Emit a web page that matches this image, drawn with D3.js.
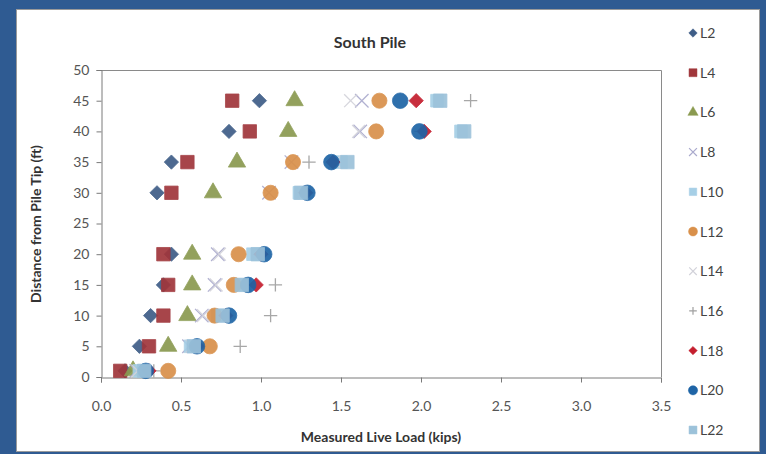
<!DOCTYPE html>
<html>
<head>
<meta charset="utf-8">
<script src="https://cdn.jsdelivr.net/npm/d3@7"></script>
<style>
  body { margin: 0; background: #2f5b92; }
  svg { display: block; font-family: Lato, "Open Sans", sans-serif; }
</style>
</head>
<body>
<svg width="766" height="454"></svg>
<script>
// Depth of each gauge row (ft)
var depths = [1, 5, 10, 15, 20, 30, 35, 40, 45];

// Measured live load per series (kips), same order as depths
var L2  = [0.15, 0.24, 0.31, 0.39, 0.44, 0.35, 0.44, 0.80, 0.99];
var L4  = [0.12, 0.30, 0.39, 0.42, 0.39, 0.44, 0.54, 0.93, 0.82];
var L6  = [0.20, 0.42, 0.54, 0.57, 0.57, 0.70, 0.85, 1.17, 1.21];
var L8  = [0.22, 0.55, 0.63, 0.71, 0.73, 1.05, 1.19, 1.62, 1.63];
var L10 = [0.24, 0.56, 0.73, 0.90, 0.95, 1.24, 1.50, 2.25, 2.10];
var L12 = [0.42, 0.68, 0.71, 0.83, 0.86, 1.06, 1.20, 1.72, 1.74];
var L14 = [0.23, 0.57, 0.64, 0.72, 0.74, 1.27, 1.46, 1.61, 1.56];
var L16 = [0.33, 0.87, 1.06, 1.09, 1.00, 1.28, 1.30, 2.00, 2.31];
var L18 = [0.30, 0.60, 0.78, 0.97, 1.00, 1.28, 1.45, 2.02, 1.97];
var L20 = [0.28, 0.60, 0.80, 0.92, 1.02, 1.29, 1.44, 1.99, 1.87];
var L22 = [0.27, 0.58, 0.76, 0.88, 0.98, 1.25, 1.54, 2.27, 2.12];

var seriesNames = ["L2", "L4", "L6", "L8", "L10", "L12", "L14", "L16", "L18", "L20", "L22"];
var seriesValues = [L2, L4, L6, L8, L10, L12, L14, L16, L18, L20, L22];

var xTicks = [0, 0.5, 1, 1.5, 2, 2.5, 3, 3.5];
var yTicks = [0, 5, 10, 15, 20, 25, 30, 35, 40, 45, 50];

// marker styles
var diamond = d3.symbolDiamond2 || d3.symbolDiamond;
var times = d3.symbolTimes || d3.symbolX || d3.symbolCross;
var plus = d3.symbolPlus || d3.symbolCross;
var styles = {
  L2:  {type: diamond, size: 130, color: "#3e5d87", fill: true},
  L4:  {type: d3.symbolSquare, size: 180, color: "#a0363b", fill: true},
  L6:  {type: d3.symbolTriangle, size: 130, color: "#8a9a50", fill: true},
  L8:  {type: times, size: 120, color: "#aaaacd", fill: false},
  L10: {type: d3.symbolSquare, size: 160, color: "#a6cfe6", fill: true},
  L12: {type: d3.symbolCircle, size: 180, color: "#d9904a", fill: true},
  L14: {type: times, size: 110, color: "#d2d2da", fill: false},
  L16: {type: plus, size: 60, color: "#a0a0a0", fill: false},
  L18: {type: diamond, size: 130, color: "#c41e2e", fill: true},
  L20: {type: d3.symbolCircle, size: 190, color: "#1e64a6", fill: true},
  L22: {type: d3.symbolSquare, size: 180, color: "#9cc2da", fill: true}
};

var svg = d3.select("svg");

// white chart panel
svg.append("rect")
    .attr("x", 16.5).attr("y", 9.5)
    .attr("width", 743).attr("height", 442)
    .attr("fill", "#fff")
    .attr("stroke", "#9a9a9a");

var x = d3.scaleLinear().domain([0, 3.5]).range([101, 661]);
var y = d3.scaleLinear().domain([0, 50]).range([377, 70]);

// plot frame (top + right)
svg.append("path")
    .attr("d", "M" + x(0) + "," + (y(50) + 0.5) + "H" + (x(3.5) + 0.5) + "V" + y(0))
    .attr("fill", "none")
    .attr("stroke", "#8a8a8a");

var xAxis = svg.append("g")
    .attr("transform", "translate(0," + (y(0) + 0.5) + ")")
    .call(d3.axisBottom(x).tickValues(xTicks).tickSize(5).tickPadding(19)
        .tickFormat(d3.format(".1f")));

var yAxis = svg.append("g")
    .attr("transform", "translate(" + (x(0) + 0.5) + ",0)")
    .call(d3.axisLeft(y).tickValues(yTicks).tickSize(5).tickPadding(7));

[xAxis, yAxis].forEach(function (g) {
    g.select(".domain").attr("stroke", "#7a7a7a");
    g.selectAll(".tick line").attr("stroke", "#7a7a7a");
    g.selectAll(".tick text")
        .attr("fill", "#555")
        .style("font-size", "14px")
        .style("font-family", "Lato, sans-serif");
});

// markers
seriesNames.forEach(function (name, i) {
    var st = styles[name];
    var sym = d3.symbol().type(st.type).size(st.size);
    svg.append("g")
        .attr("class", "series " + name)
        .selectAll("path")
        .data(seriesValues[i])
        .enter()
        .append("path")
        .attr("transform", function (d, j) {
            return "translate(" + x(d) + "," + y(depths[j]) + ")";
        })
        .attr("d", sym)
        .attr("fill", st.fill ? st.color : "none")
        .attr("stroke", st.color)
        .attr("stroke-width", st.fill ? 0.8 : 1.3)
        .attr("opacity", 0.92);
});

// titles
svg.append("text")
    .attr("x", 370).attr("y", 48)
    .attr("text-anchor", "middle")
    .style("font-size", "16px").style("font-weight", "bold")
    .attr("fill", "#333")
    .text("South Pile");

svg.append("text")
    .attr("x", 381).attr("y", 442)
    .attr("text-anchor", "middle")
    .style("font-size", "14px").style("font-weight", "bold")
    .attr("fill", "#333")
    .text("Measured Live Load (kips)");

svg.append("text")
    .attr("transform", "translate(41,224) rotate(-90)")
    .attr("text-anchor", "middle")
    .style("font-size", "14px").style("font-weight", "bold")
    .attr("fill", "#333")
    .text("Distance from Pile Tip (ft)");

// legend
var legend = svg.append("g").attr("class", "legend");
seriesNames.forEach(function (name, i) {
    var st = styles[name];
    var ly = 33 + i * 39.7;
    legend.append("path")
        .attr("transform", "translate(693," + ly + ")")
        .attr("d", d3.symbol().type(st.type).size(st.size * 0.35)())
        .attr("fill", st.fill ? st.color : "none")
        .attr("stroke", st.color)
        .attr("stroke-width", st.fill ? 0.5 : 1.2);
    legend.append("text")
        .attr("x", 700).attr("y", ly + 5)
        .style("font-size", "14px")
        .attr("fill", "#444")
        .text(name);
});
</script>
</body>
</html>
